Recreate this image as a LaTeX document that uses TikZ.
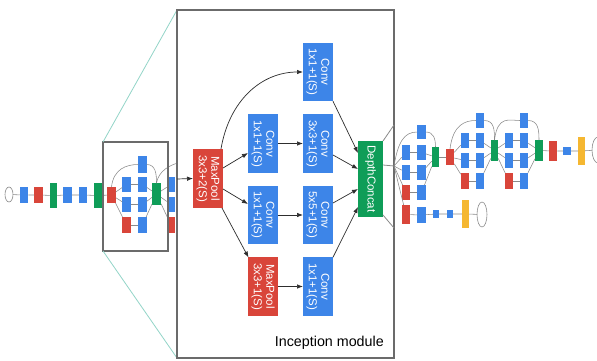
\documentclass[tikz,border=0pt]{standalone}
\usepackage{fontspec}
\setmainfont{Liberation Sans}
\usetikzlibrary{arrows.meta,shapes.geometric,calc}
\definecolor{cblue}{HTML}{3D85E8}
\definecolor{cred}{HTML}{D9453A}
\definecolor{cgreen}{HTML}{0F9D58}
\definecolor{cyellow}{HTML}{F5B731}
\definecolor{cgray}{HTML}{8A8A8A}
\definecolor{cframe}{HTML}{6B6B6B}
\definecolor{cdark}{HTML}{2E2E2E}
\definecolor{cteal}{HTML}{93D5C8}
\begin{document}
\begin{tikzpicture}[x=1pt,y=-1pt,
  bx/.style={rectangle, inner sep=0pt, outer sep=0pt, draw=none},
  tb/.style={bx, fill=cblue, minimum width=8.5pt, minimum height=15pt},
  tr/.style={bx, fill=cred, minimum width=8.5pt, minimum height=15pt},
  tg/.style={bx, fill=cgreen, minimum width=7.5pt, minimum height=21pt},
  ty/.style={bx, fill=cyellow, minimum width=7pt, minimum height=28pt},
  ell/.style={ellipse, draw=cgray, fill=white, line width=0.6pt, inner sep=0pt, outer sep=0pt},
  te/.style={draw=cgray, line width=0.55pt},
  bigb/.style={bx, fill=cblue, minimum width=30pt, minimum height=58.5pt},
  bigr/.style={bx, fill=cred, minimum width=30pt, minimum height=59pt},
  txt/.style={text=white, rotate=-90, align=center, inner sep=0pt, font=\fontsize{11.5}{12.5}\selectfont},
  be/.style={draw=cdark, line width=0.7pt, -{Latex[length=6pt,width=4.5pt]}},
  frame/.style={rectangle, draw=cframe, line width=1.3pt, inner sep=0pt, outer sep=0pt},
  zoomln/.style={draw=cteal, line width=0.8pt},
  outln/.style={draw=cgray, line width=0.8pt}
]
\useasboundingbox (0,0) rectangle (597,361);
\clip (0,0) rectangle (597,361);
\fill[white] (0,0) rectangle (597,361);

% ---------- left chain ----------
\node[ell, minimum width=8pt, minimum height=15pt] (in0) at (9,194.5) {};
\node[tb, minimum height=16pt] (b1) at (24,195) {};
\node[tr, minimum height=16pt] (r1) at (38.5,195) {};
\node[tg, minimum height=25pt] (g1) at (53.5,195.5) {};
\node[tb, minimum height=16pt] (b2) at (67.5,195) {};
\node[tb, minimum height=16pt] (b3) at (83,195) {};
\node[tg, minimum width=8pt, minimum height=25pt] (g2) at (98,195.5) {};
\node[tr, minimum height=16pt] (r2) at (111.5,195) {};
\draw[te] (in0) -- (b1) -- (r1) -- (g1) -- (b2) -- (b3) -- (g2) -- (r2);

% ---------- mini module in small box ----------
\node[tb, minimum height=17pt] (s2a) at (142.5,164.5) {};
\node[tb] (s1b) at (126.5,184.5) {};
\node[tb] (s2b) at (142.5,184.5) {};
\node[tb] (s1c) at (126.5,204.5) {};
\node[tb] (s2c) at (142.5,204.5) {};
\node[tr, minimum height=16pt] (s1d) at (126.5,225) {};
\node[tb, minimum height=16pt] (s2d) at (142.5,225) {};
\node[tg, minimum width=9pt, minimum height=22pt] (sdc) at (156.5,194) {};
\node[tb] (t1b) at (171,184.5) {};
\node[tb] (t1c) at (171,204.5) {};
\node[tr, minimum height=16pt] (t1d) at (171,225) {};
\coordinate (tcur) at (178,163);
\draw[te] (r2.north) .. controls +(2,-18) and +(-12,0) .. (s2a.west);
\draw[te] (r2) -- (s1b);
\draw[te] (r2) -- (s1c);
\draw[te] (r2) -- (s1d);
\draw[te] (s1b) -- (s2b);
\draw[te] (s1c) -- (s2c);
\draw[te] (s1d) -- (s2d);
\draw[te] (s2a.east) .. controls +(9,0) and +(0,-9) .. (sdc.north);
\draw[te] (s2b) -- (sdc);
\draw[te] (s2c) -- (sdc);
\draw[te] (s2d) -- (sdc);
\draw[te] (sdc) -- (t1b);
\draw[te] (sdc) -- (t1c);
\draw[te] (sdc) -- (t1d);
\draw[te] (sdc.north) .. controls +(2,-12) and +(-8,2) .. (tcur);

% ---------- small frame and zoom lines ----------
\node[frame, line width=1.1pt, minimum width=65pt, minimum height=109pt] (small) at (135.5,196.5) {};
\node[frame, minimum width=217pt, minimum height=348pt] (bigpos) at (285.5,184) {};
\draw[zoomln] (small.north west) -- (bigpos.north west);
\draw[zoomln] (small.south west) -- (bigpos.south west);

% ---------- big frame ----------
\node[frame, fill=white, minimum width=217pt, minimum height=348pt] (big) at (285.5,184) {};

% ---------- inception module ----------
\node[bigr] (mp0) at (208,178.5) {};
\node[txt] at (mp0) {MaxPool\\3x3+2(S)};
\node[bigb] (c1) at (318,72) {};
\node[txt] at (c1) {Conv\\1x1+1(S)};
\node[bigb] (c2a) at (263,143.5) {};
\node[txt] at (c2a) {Conv\\1x1+1(S)};
\node[bigb] (c2b) at (318,143.5) {};
\node[txt] at (c2b) {Conv\\3x3+1(S)};
\node[bigb] (c3a) at (263,215) {};
\node[txt] at (c3a) {Conv\\1x1+1(S)};
\node[bigb] (c3b) at (318,215) {};
\node[txt] at (c3b) {Conv\\5x5+1(S)};
\node[bigr] (mp4) at (263,286.5) {};
\node[txt] at (mp4) {MaxPool\\3x3+1(S)};
\node[bigb] (c4b) at (318,286.5) {};
\node[txt] at (c4b) {Conv\\1x1+1(S)};
\node[bx, fill=cgreen, minimum width=25pt, minimum height=76pt] (dc) at (370.5,179) {};
\node[txt] at (dc) {DepthConcat};

\coordinate (inA) at (177,179);
\draw[be] (inA) -- (mp0.west);
\draw[be] ($(mp0.north)+(13,0)$) .. controls +(8,-48) and +(-42,0) .. (c1.west);
\draw[be] ($(mp0.east)+(0,-10.5)$) -- ($(c2a.west)+(0,9.5)$);
\draw[be] ($(mp0.east)+(0,10.5)$) -- ($(c3a.west)+(0,-11)$);
\draw[be] ($(mp0.south east)+(-1,0)$) -- ($(mp4.north west)+(0.5,0.5)$);
\draw[be] (c2a) -- (c2b);
\draw[be] (c3a) -- (c3b);
\draw[be] (mp4) -- (c4b);
\draw[be] (c1.south east) -- ($(dc.west)+(0,-26)$);
\draw[be] ($(c2b.east)+(0,11.5)$) -- ($(dc.west)+(0,-10)$);
\draw[be] ($(c3b.east)+(0,-12)$) -- ($(dc.west)+(0,10)$);
\draw[be] (c4b.north east) -- ($(dc.west)+(0,28)$);

\node[anchor=east, inner sep=0pt, font=\fontsize{14.3}{16}\selectfont] (lbl) at (384,343) {Inception module};

% ---------- lines leaving the big module ----------
\coordinate (e1) at (394,125);
\coordinate (hubA) at (394,166);
\coordinate (e3) at (394,228);
\draw[outln] (dc.north east) -- (e1);
\draw[outln] ($(dc.east)+(0,-14)$) -- (hubA);
\draw[outln] ($(dc.south east)+(0,-2)$) -- (e3);

% ---------- module A ----------
\node[tb, minimum height=14pt] (A2a) at (421.5,132) {};
\node[tb] (A1b) at (406,152.5) {};
\node[tb] (A2b) at (421.5,152.5) {};
\node[tb] (A1c) at (406,172.5) {};
\node[tb] (A2c) at (421.5,172.5) {};
\node[tr] (A1d) at (406,192.5) {};
\node[tb] (A2d) at (421.5,192.5) {};
\node[tr, minimum height=19pt] (A1e) at (406,214.5) {};
\node[tb, minimum height=16pt] (A2e) at (421.5,215) {};
\node[tg, minimum height=20pt] (Adc) at (435.5,157) {};
\node[tr, minimum height=16pt] (Amp) at (450,157) {};
\draw[te] (hubA) .. controls (398,142) and (404,132) .. (A2a.west);
\draw[te] (hubA) -- (A1b);
\draw[te] (hubA) -- (A1c);
\draw[te] (hubA) -- (A1d);
\draw[te] (hubA) -- (A1e);
\draw[te] (A1b) -- (A2b);
\draw[te] (A1c) -- (A2c);
\draw[te] (A1d) -- (A2d);
\draw[te] (A2a.east) .. controls +(8,0) and +(0,-8) .. (Adc.north);
\draw[te] (A2b) -- (Adc);
\draw[te] (A2c) -- (Adc);
\draw[te] (A2d) -- (Adc);
\draw[te] (Adc) -- (Amp);

% auxiliary branch
\node[tb, minimum width=6pt, minimum height=8pt] (X1) at (436,214) {};
\node[tb, minimum width=6pt, minimum height=8pt] (X2) at (450,214) {};
\node[ty, minimum height=28pt] (Xy) at (465.5,214) {};
\node[ell, minimum width=10pt, minimum height=25pt] (Xo) at (482,214.5) {};
\draw[te] (A1e) -- (A2e) -- (X1) -- (X2) -- (Xy) -- (Xo);

% ---------- module B ----------
\node[tb] (B2a) at (480,120.5) {};
\node[tb] (B1b) at (465,140.5) {};
\node[tb] (B2b) at (480,140.5) {};
\node[tb] (B1c) at (465,160.5) {};
\node[tb] (B2c) at (480,160.5) {};
\node[tr, minimum height=16pt] (B1d) at (465,181) {};
\node[tb, minimum height=16pt] (B2d) at (480,181) {};
\node[tg] (Bdc) at (494.5,150.5) {};
\draw[te] (Amp.north) .. controls +(3,-25) and +(-10,0) .. (B2a.west);
\draw[te] (Amp) -- (B1b);
\draw[te] (Amp) -- (B1c);
\draw[te] (Amp) -- (B1d);
\draw[te] (B1b) -- (B2b);
\draw[te] (B1c) -- (B2c);
\draw[te] (B1d) -- (B2d);
\draw[te] (B2a.east) .. controls +(10,0) and +(0,-10) .. (Bdc.north);
\draw[te] (B2b) -- (Bdc);
\draw[te] (B2c) -- (Bdc);
\draw[te] (B2d) -- (Bdc);

% ---------- module C ----------
\node[tb] (C2a) at (524,120.5) {};
\node[tb] (C1b) at (509,140.5) {};
\node[tb] (C2b) at (524,140.5) {};
\node[tb] (C1c) at (509,160.5) {};
\node[tb] (C2c) at (524,160.5) {};
\node[tr, minimum height=16pt] (C1d) at (509,181) {};
\node[tb, minimum height=16pt] (C2d) at (524,181) {};
\node[tg, minimum width=8pt] (Cdc) at (539,150.5) {};
\draw[te] (Bdc.north) .. controls +(3,-25) and +(-10,0) .. (C2a.west);
\draw[te] (Bdc) -- (C1b);
\draw[te] (Bdc) -- (C1c);
\draw[te] (Bdc) -- (C1d);
\draw[te] (C1b) -- (C2b);
\draw[te] (C1c) -- (C2c);
\draw[te] (C1d) -- (C2d);
\draw[te] (C2a.east) .. controls +(10,0) and +(0,-10) .. (Cdc.north);
\draw[te] (C2b) -- (Cdc);
\draw[te] (C2c) -- (Cdc);
\draw[te] (C2d) -- (Cdc);

% ---------- output ----------
\node[tr, minimum height=20pt] (Fr) at (553,151) {};
\node[tb, minimum width=8pt, minimum height=8pt] (Fb) at (567,151) {};
\node[ty, minimum height=28pt] (Fy) at (581.5,151) {};
\node[ell, minimum width=12pt, minimum height=26pt] (Fo) at (598,150) {};
\draw[te] (Cdc) -- (Fr) -- (Fb) -- (Fy) -- (Fo);
\end{tikzpicture}
\end{document}
